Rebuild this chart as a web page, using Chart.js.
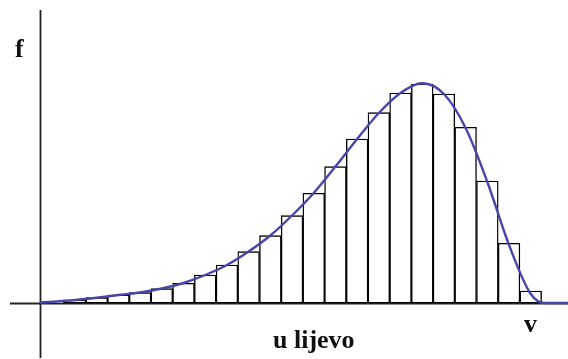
<!DOCTYPE html>
<html>
<head>
<meta charset="utf-8">
<script src="https://cdn.jsdelivr.net/npm/chart.js@4.4.0/dist/chart.umd.min.js"></script>
<style>
    html, body { margin: 0; padding: 0; background: #fff; }
    #wrap { position: relative; width: 568px; height: 359px; }
    .lbl {
        position: absolute;
        font-family: "Liberation Serif", "DejaVu Serif", serif;
        font-weight: bold;
        font-size: 26px;
        line-height: 26px;
        color: #111;
        white-space: nowrap;
    }
</style>
</head>
<body>
<div id="wrap">
    <canvas id="histChart" width="568" height="359"></canvas>
    <span class="lbl" style="left:15px; top:36px;">f</span>
    <span class="lbl" style="left:524px; top:311px;">v</span>
    <span class="lbl" style="left:273px; top:327px;">u lijevo</span>
</div>
<script>
// histogram bins (bin k spans k..k+1)
const binCenters = [0.5, 1.5, 2.5, 3.5, 4.5, 5.5, 6.5, 7.5, 8.5, 9.5, 10.5, 11.5,
    12.5, 13.5, 14.5, 15.5, 16.5, 17.5, 18.5, 19.5, 20.5, 21.5, 22.5];
const binCounts = [1.3, 3, 5.3, 8, 10.3, 14.3, 19.7, 28, 38, 51.3, 67.3, 87.3,
    109.7, 136.3, 164, 190.3, 210, 219, 209, 175.7, 122, 59.7, 12];

// fitted density curve
const curveX = [-0.12, 0.5, 1.5, 2.5, 3.5, 4.5, 5.5, 6.5, 7.5, 8.5, 9.5, 10.5, 11.5,
    12.5, 13.5, 14.5, 15.5, 16.5, 17.5, 18.5, 19.5, 20.5, 21.5, 22.5, 23.15, 24.3];
const curveY = [0.5, 1.3, 3, 5.3, 8, 10.5, 14.5, 20, 28, 38, 51.5, 67.5, 87.5,
    110, 136.5, 164, 190, 210, 219.7, 209, 175, 121, 58, 9, 0, 0];

// where the f axis crosses the v axis
const yAxisAt = -0.12;

const axesPlugin = {
    id: 'axesLines',
    beforeDatasetsDraw(chart) {
        const { ctx, scales: { x, y } } = chart;
        const x0 = Math.round(x.getPixelForValue(yAxisAt)) + 0.5;
        const y0 = Math.round(y.getPixelForValue(0)) + 0.5;
        ctx.save();
        ctx.strokeStyle = '#222';
        ctx.lineWidth = 1.8;
        ctx.beginPath();
        ctx.moveTo(10, y0);
        ctx.lineTo(chart.width, y0);
        ctx.moveTo(x0, 10);
        ctx.lineTo(x0, 358);
        ctx.stroke();
        ctx.restore();
    }
};

const ctx = document.getElementById('histChart').getContext('2d');
new Chart(ctx, {
    type: 'bar',
    data: {
        datasets: [{
            type: 'line',
            data: curveX.map((v, i) => ({ x: v, y: curveY[i] })),
            borderColor: '#4646a8',
            borderWidth: 2.4,
            pointRadius: 0,
            cubicInterpolationMode: 'monotone',
            fill: false,
            order: 0
        }, {
            type: 'bar',
            data: binCenters.map((v, i) => ({ x: v, y: binCounts[i] })),
            backgroundColor: '#fff',
            borderColor: '#000',
            borderWidth: 1.4,
            borderSkipped: false,
            barPercentage: 1,
            categoryPercentage: 1,
            order: 1
        }]
    },
    options: {
        responsive: false,
        animation: false,
        layout: { padding: 0 },
        plugins: {
            legend: { display: false },
            tooltip: { enabled: false }
        },
        scales: {
            x: {
                type: 'linear',
                display: false,
                offset: false,
                min: -1.958,
                max: 24.217
            },
            y: {
                display: false,
                min: -56,
                max: 303
            }
        }
    },
    plugins: [axesPlugin]
});
</script>
</body>
</html>
